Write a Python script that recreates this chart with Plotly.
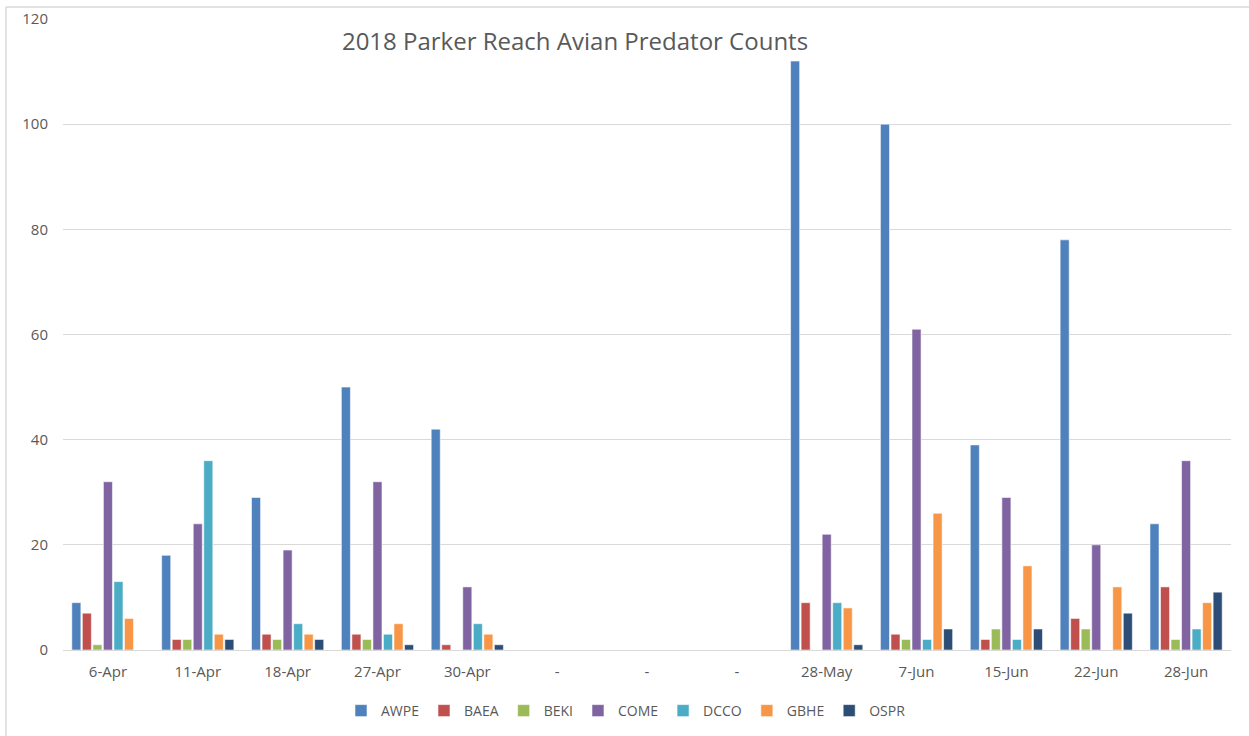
import plotly.graph_objects as go

# Survey dates (three survey slots without a date are shown as "-")
dates = ["6-Apr", "11-Apr", "18-Apr", "27-Apr", "30-Apr", "-", "-", "-",
         "28-May", "7-Jun", "15-Jun", "22-Jun", "28-Jun"]

# Counts per species, one value per survey slot (None = no survey)
AWPE = [9, 18, 29, 50, 42, None, None, None, 112, 100, 39, 78, 24]
BAEA = [7, 2, 3, 3, 1, None, None, None, 9, 3, 2, 6, 12]
BEKI = [1, 2, 2, 2, 0, None, None, None, 0, 2, 4, 4, 2]
COME = [32, 24, 19, 32, 12, None, None, None, 22, 61, 29, 20, 36]
DCCO = [13, 36, 5, 3, 5, None, None, None, 9, 2, 2, 0, 4]
GBHE = [6, 3, 3, 5, 3, None, None, None, 8, 26, 16, 12, 9]
OSPR = [0, 2, 2, 1, 1, None, None, None, 1, 4, 4, 7, 11]

series = [
    ("AWPE", AWPE, "#4F81BD"),
    ("BAEA", BAEA, "#C0504D"),
    ("BEKI", BEKI, "#9BBB59"),
    ("COME", COME, "#8064A2"),
    ("DCCO", DCCO, "#4BACC6"),
    ("GBHE", GBHE, "#F79646"),
    ("OSPR", OSPR, "#2C4D75"),
]

positions = list(range(len(dates)))

fig = go.Figure()
for name, values, color in series:
    fig.add_trace(go.Bar(
        x=positions, y=values, name=name,
        marker=dict(color=color, line=dict(color="rgba(255,255,255,0.55)", width=1)),
    ))

text_color = "#595959"
font_family = "Open Sans, Liberation Sans, sans-serif"

fig.update_layout(
    width=1249, height=736,
    margin=dict(l=63, r=18, t=19, b=86, autoexpand=False),
    paper_bgcolor="white", plot_bgcolor="white",
    barmode="group", bargap=0.18, bargroupgap=0.14,
    font=dict(family=font_family, size=14, color=text_color),
    title=dict(text="2018 Parker Reach Avian Predator Counts",
               x=(575 - 63) / 1168, xanchor="center", xref="paper",
               y=1 - 42 / 736, yanchor="middle",
               font=dict(size=24, color=text_color, family=font_family)),
    legend=dict(orientation="h", x=(626 - 63) / 1168, xanchor="center",
                y=-(711 - 650) / 631, yanchor="middle",
                font=dict(size=14, color=text_color),
                traceorder="normal"),
    xaxis=dict(tickmode="array", tickvals=positions, ticktext=dates,
               range=[-0.5, len(dates) - 0.5], showgrid=False,
               showline=True, linecolor="#d9d9d9", linewidth=1,
               ticks="", ticklabelstandoff=8,
               tickfont=dict(size=15, color=text_color)),
    yaxis=dict(range=[0, 120], dtick=20, showgrid=True, gridcolor="#d9d9d9",
               gridwidth=1, zeroline=False, showline=False, ticks="",
               ticklabelstandoff=14, tickfont=dict(size=15, color=text_color)),
    shapes=[
        dict(type="line", xref="paper", yref="paper",
             x0=-57 / 1168, x1=1.2, y0=1 + 12 / 631, y1=1 + 12 / 631,
             line=dict(color="#d9d9d9", width=1.5)),
        dict(type="line", xref="paper", yref="paper",
             x0=-57 / 1168, x1=-57 / 1168, y0=1 + 12 / 631, y1=-0.3,
             line=dict(color="#d9d9d9", width=1.5)),
    ],
)

fig.write_html("out.html")
